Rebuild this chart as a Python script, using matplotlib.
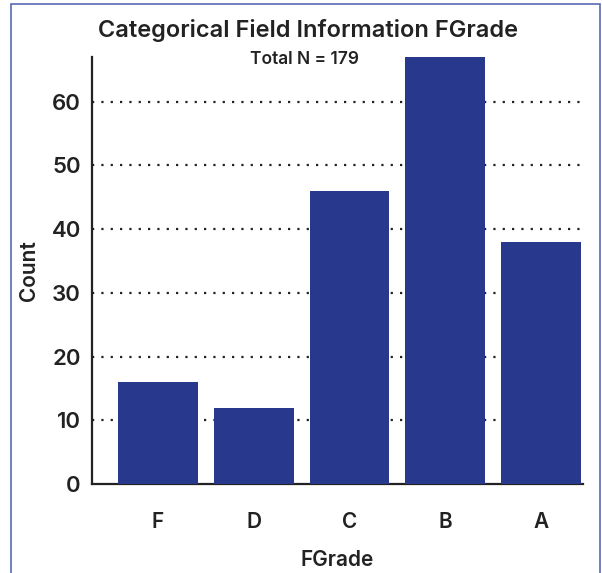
import matplotlib
matplotlib.use("Agg")
import matplotlib.pyplot as plt
from matplotlib.patches import Rectangle

categories = ["F", "D", "C", "B", "A"]
counts = [16, 12, 46, 67, 38]
yticks = [0, 10, 20, 30, 40, 50, 60]
title = "Categorical Field Information FGrade"
subtitle = "Total N = 179"

plt.rcParams['font.family'] = ['Inter', 'DejaVu Sans']

W, H = 602, 573
fig = plt.figure(figsize=(W / 100, H / 100), dpi=100)
ax = fig.add_axes([92 / W, 1 - 484 / H, (583 - 92) / W, (484 - 57) / H])

x = list(range(len(categories)))
ax.bar(x, counts, width=0.835, color="#28388c", zorder=3)
ax.set_xlim(-0.69, 4.44)
ax.set_ylim(0, 67)

for t in yticks[1:]:
    ax.axhline(t, color="#222222", linestyle=(0, (1, 3.2)), linewidth=1.6, zorder=1)

ax.set_xticks(x)
ax.set_xticklabels(categories, fontsize=15, fontweight="semibold", color="#222222")
ax.set_yticks(yticks)
ax.set_yticklabels([str(v) for v in yticks], fontsize=16, fontweight="semibold", color="#222222")
ax.tick_params(axis="both", length=0)
ax.tick_params(axis="x", pad=20)
ax.tick_params(axis="y", pad=8)
for s in ["top", "right"]:
    ax.spines[s].set_visible(False)
for s in ["left", "bottom"]:
    ax.spines[s].set_linewidth(1.6)
    ax.spines[s].set_color("#222222")

ax.set_xlabel("FGrade", fontsize=15, fontweight="semibold", labelpad=13, color="#222222")
ax.set_ylabel("Count", fontsize=15, fontweight="semibold", labelpad=9, color="#222222")

fig.text(308 / W, 1 - 30 / H, title, ha="center", va="center", fontsize=17, fontweight="semibold", color="#222222")
fig.text(305 / W, 1 - 60 / H, subtitle, ha="center", va="center", fontsize=12.5, fontweight="semibold", color="#222222")

fig.patches.append(Rectangle((11 / W, -0.01), (600 - 11) / W, 1 - 4 / H + 0.01, transform=fig.transFigure,
                             fill=False, edgecolor="#5a6ab4", linewidth=1.2))

fig.savefig("out.png", dpi=100)
